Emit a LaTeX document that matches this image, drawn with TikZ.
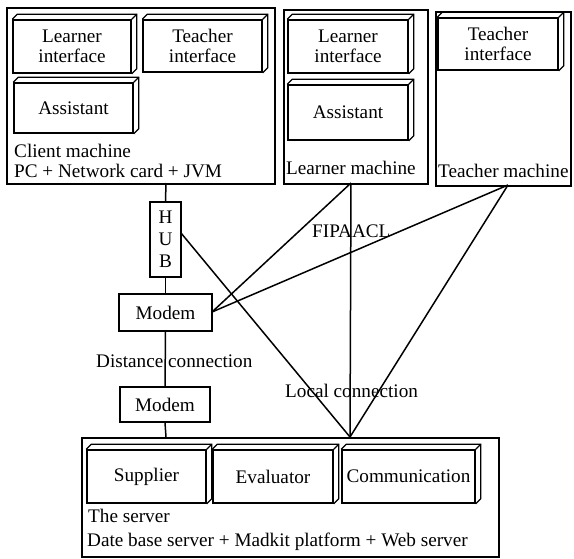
\documentclass[tikz,border=0pt]{standalone}
\usepackage{fontspec}
\setmainfont{Liberation Serif}
\usetikzlibrary{calc}
\begin{document}
\begin{tikzpicture}[x=1pt,y=-1pt,
  every node/.style={font=\rmfamily\fontsize{19.2}{19.5}\selectfont},
  outer/.style={draw,line width=1.7pt,inner sep=0pt,anchor=north west},
  blockfront/.style={draw,line width=1.5pt,inner sep=0pt,align=center},
  plainbox/.style={draw,line width=1.6pt,inner sep=0pt,align=center},
  label/.style={inner sep=0pt,anchor=base west},
  wire/.style={line width=1.5pt}]
\useasboundingbox (0,0) rectangle (574,558);

% ---- outer machine boxes
\node[outer,minimum width=268pt,minimum height=176pt] (client) at (6,7) {};
\node[outer,minimum width=144pt,minimum height=174pt] (lmach) at (283,9) {};
\node[outer,minimum width=135pt,minimum height=174pt] (tmach) at (435,11) {};
\node[outer,minimum width=417pt,minimum height=119pt] (server) at (81,437) {};

% ---- 3D blocks (front faces)
\node[blockfront,minimum width=118pt,minimum height=53pt] (cli) at (72,46.5) {Learner\\interface};
\node[blockfront,minimum width=119pt,minimum height=52pt] (cti) at (202.5,46) {Teacher\\interface};
\node[blockfront,minimum width=119pt,minimum height=50pt] (cas) at (73.5,108) {Assistant};
\node[blockfront,minimum width=120pt,minimum height=53pt] (lli) at (348,46.5) {Learner\\interface};
\node[blockfront,minimum width=120pt,minimum height=55pt] (las) at (348,112.5) {Assistant};
\node[blockfront,minimum width=120pt,minimum height=52pt] (tti) at (498,44) {Teacher\\interface};
\node[blockfront,minimum width=119pt,minimum height=53pt] (sup) at (146.5,476.5) {Supplier};
\node[blockfront,minimum width=120pt,minimum height=53pt] (eva) at (273,476.5) {Evaluator};
\node[blockfront,minimum width=133pt,minimum height=53pt] (com) at (408.5,476.5) {Communication};

% top and right faces of each block
\foreach \b in {cli,cti,cas,lli,las,tti,sup,eva,com}{
  \draw[line width=1.4pt,line join=miter]
    (\b.north west) -- ++(5,-5) -- ($(\b.north east)+(5,-5)$)
    -- ($(\b.south east)+(5,-5)$) -- (\b.south east);
  \draw[line width=1.1pt] (\b.north east) -- ++(5,-5);
}

% ---- machine captions
\node[label] (t1) at (14,157) {Client machine};
\node[label] (t2) at (14,177) {PC + Network card + JVM};
\node[label] (t3) at (286,174) {Learner machine};
\node[label] (t4) at (438,177) {Teacher machine};
\node[label] (t5) at (88,522) {The server};
\node[label] (t6) at (87,546) {Date base server + Madkit platform + Web server};

% ---- hub and modems
\node[plainbox,minimum width=31pt,minimum height=75pt,
      font=\rmfamily\fontsize{19.2}{22}\selectfont] (hub) at (165.5,239.5) {H\\U\\B};
\node[plainbox,minimum width=93pt,minimum height=37pt] (modem1) at (165.5,312.5) {Modem};
\node[plainbox,minimum width=90pt,minimum height=35pt] (modem2) at (165,404.5) {Modem};

% ---- connection points on the machine boxes
\coordinate (cport) at (166,183);
\coordinate (lport) at (351,183);
\coordinate (tport) at (508,185);
\coordinate (sport) at (166,437);
\coordinate (conv) at (350,437);
\coordinate (hubr) at (181,233);
\coordinate (modr) at (212,312);

% ---- connectors
\draw[wire] (cport) -- (hub.north);
\draw[wire] (hub.south) -- (modem1.north);
\draw[wire] (modem1.south) -- (modem2.north);
\draw[wire] (modem2.south) -- (sport);
\draw[wire] (modr) -- (lport);
\draw[wire] (modr) -- (tport);
\draw[wire] (hubr) -- (conv);
\draw[wire] (lport) -- (conv);
\draw[wire] (tport) -- (conv);

% ---- connection labels
\node[label] (fipa) at (312,237) {FIPAACL};
\node[label] (dist) at (96,367) {Distance connection};
\node[label] (loc) at (285,397) {Local connection};
\end{tikzpicture}
\end{document}
